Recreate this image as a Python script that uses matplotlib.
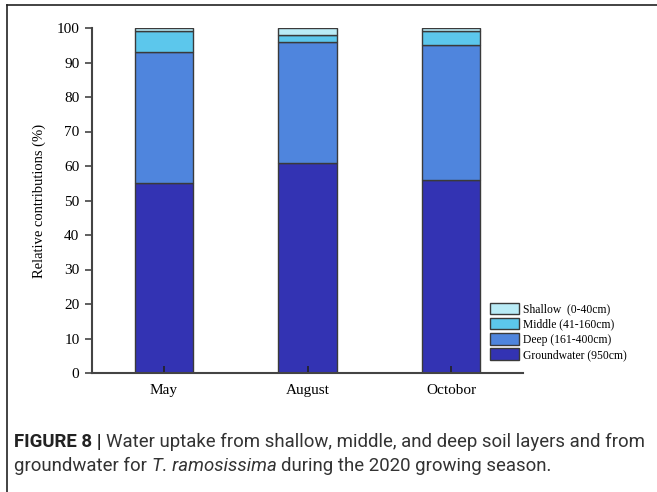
import matplotlib
matplotlib.use("Agg")
import matplotlib.pyplot as plt
import numpy as np
from matplotlib.lines import Line2D
from matplotlib.patches import Patch

# Relative contributions (%) of each water source per month
months = ["May", "August", "Octobor"]
groundwater = [55, 61, 56]
deep = [38, 35, 39]
middle = [6, 2, 4]
shallow = [1, 2, 1]

layer_labels = ["Shallow  (0-40cm)", "Middle (41-160cm)", "Deep (161-400cm)", "Groundwater (950cm)"]
layer_colors = ["#b9ebf6", "#5cc7ec", "#4f85dd", "#3333b3"]
edge = "#3a3a3a"

fig = plt.figure(figsize=(6.57, 4.92), dpi=100)
ax = fig.add_axes([92 / 657, 1 - 373 / 492, 431 / 657, 345 / 492])

x = np.arange(len(months))
width = 0.405
bottom = np.zeros(len(months))
stack = [groundwater, deep, middle, shallow]
stack_colors = layer_colors[::-1]
for vals, col in zip(stack, stack_colors):
    ax.bar(x, vals, width, bottom=bottom, color=col, edgecolor=edge, linewidth=1.0)
    bottom += np.array(vals)

ax.set_xlim(-0.5, 2.5)
ax.set_ylim(0, 100)
ax.set_yticks(np.arange(0, 101, 10))
ax.set_xticks(x)
ax.set_xticklabels(months)

for s in ["top", "right"]:
    ax.spines[s].set_visible(False)
for s in ["left", "bottom"]:
    ax.spines[s].set_color("#444444")
    ax.spines[s].set_linewidth(1.5)

serif = "Liberation Serif"
ax.tick_params(axis="y", direction="out", length=5, width=1.2, color="#444444",
               labelsize=11, pad=4)
ax.tick_params(axis="x", direction="in", length=5, width=1.2, color="#222222",
               labelsize=11, pad=8)
for lab in ax.get_xticklabels() + ax.get_yticklabels():
    lab.set_fontfamily(serif)
ax.set_ylabel("Relative contributions (%)", fontfamily=serif, fontsize=10.5, labelpad=8)

handles = [Patch(facecolor=c, edgecolor=edge, linewidth=1.0) for c in layer_colors]
ax.legend(handles, layer_labels, loc="lower left", bbox_to_anchor=(490 / 657, 1 - 361 / 492),
          bbox_transform=fig.transFigure, frameon=False, prop={"family": serif, "size": 8.4},
          handlelength=2.5, handleheight=1.1, handletextpad=0.3, labelspacing=0.22,
          borderpad=0, borderaxespad=0)

# Panel frame lines (top and left)
fig.add_artist(Line2D([7 / 657, 1.0], [1 - 5 / 492, 1 - 5 / 492], transform=fig.transFigure,
                      color="#222222", linewidth=1.2))
fig.add_artist(Line2D([7 / 657, 7 / 657], [0, 1 - 5 / 492], transform=fig.transFigure,
                      color="#222222", linewidth=1.2))

# Caption
cap_font = ["Roboto", "DejaVu Sans"]
cap_size = 13.4
t = fig.text(14 / 657, 1 - 442 / 492, "FIGURE 8 |", fontsize=cap_size, fontweight="bold",
             family=cap_font, va="center", color="#222222")
fig.canvas.draw()
bb = t.get_window_extent()
fig.text((bb.x1 + 4) / 657, 1 - 442 / 492,
         "Water uptake from shallow, middle, and deep soil layers and from",
         fontsize=cap_size, family=cap_font, va="center", color="#333333")
t2 = fig.text(14 / 657, 1 - 466 / 492, "groundwater for ", fontsize=cap_size, family=cap_font,
              va="center", color="#333333")
fig.canvas.draw()
bb2 = t2.get_window_extent()
t3 = fig.text(bb2.x1 / 657, 1 - 466 / 492, "T. ramosissima", fontsize=cap_size, family=cap_font,
              style="italic", va="center", color="#333333")
fig.canvas.draw()
bb3 = t3.get_window_extent()
fig.text((bb3.x1 + 5) / 657, 1 - 466 / 492, "during the 2020 growing season.", fontsize=cap_size,
         family=cap_font, va="center", color="#333333")

fig.savefig("out.png", dpi=100)
